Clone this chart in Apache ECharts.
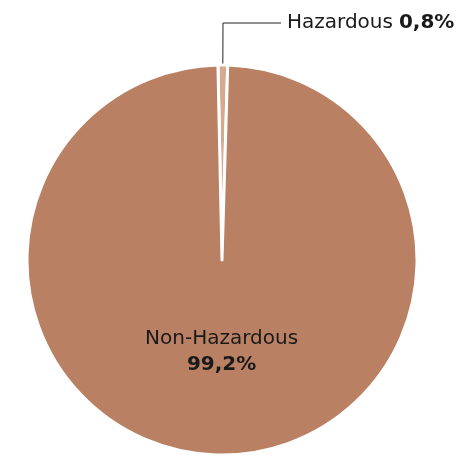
<!DOCTYPE html>
<html><head><meta charset="utf-8">
<script src="https://cdn.jsdelivr.net/npm/echarts@6/dist/echarts.min.js"></script>
<style>html,body{margin:0;padding:0;background:#fff}#c{width:464px;height:456px}</style>
</head><body><div id="c"></div>
<script>
var categories = ['Hazardous', 'Non-Hazardous'];
var values = [0.8, 99.2];
var valueLabels = ['0,8%', '99,2%'];
var colors = ['#d6a991', '#b98063'];

var chart = echarts.init(document.getElementById('c'));
var data = categories.map(function (c, i) {
  var d = { name: c, value: values[i], itemStyle: { color: colors[i] } };
  if (i === 0) {
    d.label = {
      position: 'outside',
      formatter: function (p) { return '{g|' + p.name + '}{b|' + valueLabels[p.dataIndex] + '}'; },
      distanceToLabelLine: 6
    };
    d.labelLine = { show: true, length: 42, length2: 58, lineStyle: { color: '#222', width: 1 } };
  } else {
    d.label = {
      position: 'inside',
      padding: [0, 0, 18, 0],
      formatter: function (p) { return '{n|' + p.name + '}\n{b|' + valueLabels[p.dataIndex] + '}'; }
    };
    d.labelLine = { show: false };
  }
  return d;
});
chart.setOption({
  animation: false,
  series: [{
    type: 'pie',
    center: [222, 260],
    radius: [0, 195],
    startAngle: 91.2,
    clockwise: true,
    avoidLabelOverlap: false,
    itemStyle: { borderColor: '#fff', borderWidth: 3 },
    label: {
      show: true,
      color: '#1a1a1a',
      fontFamily: 'DejaVu Sans',
      rich: {
        n: { fontSize: 20, fontFamily: 'DejaVu Sans', color: '#1a1a1a', lineHeight: 26 },
        g: { fontSize: 20, fontFamily: 'DejaVu Sans', color: '#1a1a1a', lineHeight: 26, padding: [0, 6, 0, 0] },
        b: { fontSize: 20, fontFamily: 'DejaVu Sans', fontWeight: 'bold', color: '#1a1a1a', lineHeight: 26 }
      }
    },
    data: data
  }]
});
</script></body></html>
